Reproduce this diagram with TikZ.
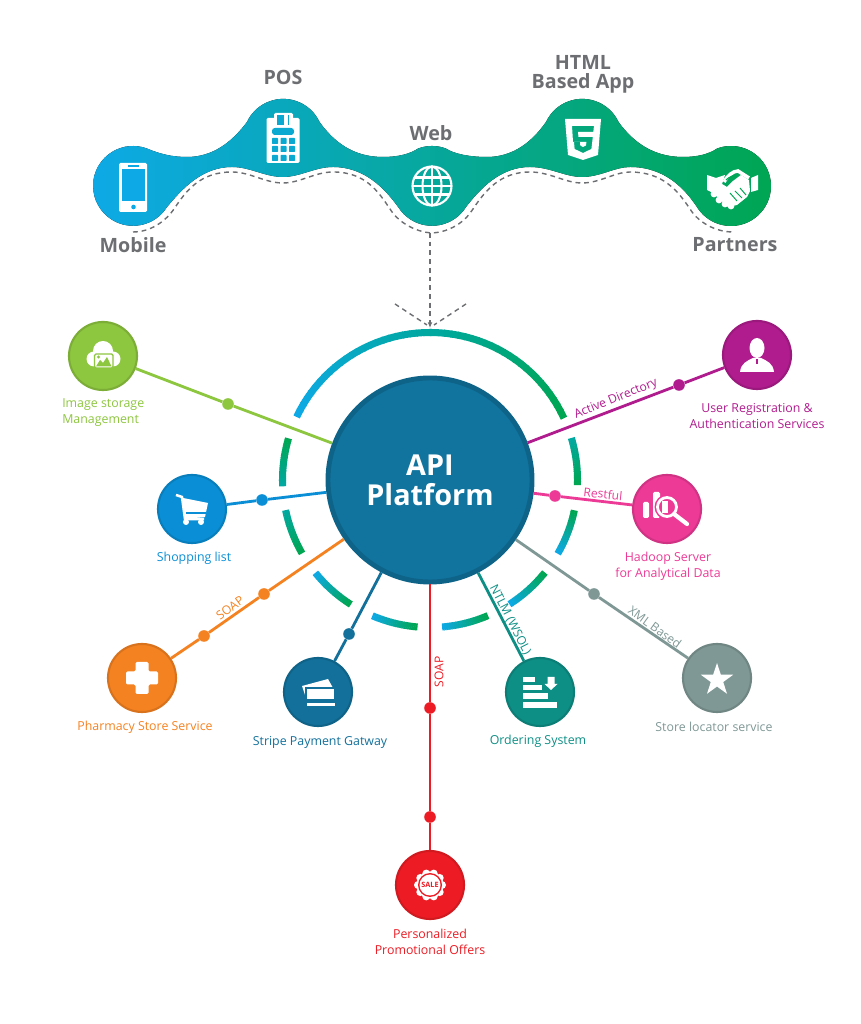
\documentclass[tikz,border=0pt]{standalone}
\usepackage{fontspec}
\setmainfont{Open Sans}
\usepackage{tikz}
\usetikzlibrary{arrows.meta,positioning,shapes.geometric}
\definecolor{ribcyan}{HTML}{0DA9E6}
\definecolor{ribteal}{HTML}{00A8A0}
\definecolor{ribgreen}{HTML}{00A651}
\definecolor{titlegray}{HTML}{6D6E71}
\definecolor{apiblue}{HTML}{11749F}
\definecolor{apiedge}{HTML}{0E6488}
\definecolor{imggreen}{HTML}{8DC63F}
\definecolor{shopblue}{HTML}{0A8FD6}
\definecolor{pharmorange}{HTML}{F58220}
\definecolor{stripblue}{HTML}{12709B}
\definecolor{promored}{HTML}{ED1C24}
\definecolor{ordteal}{HTML}{0E8F86}
\definecolor{storegray}{HTML}{7F9895}
\definecolor{hadpink}{HTML}{EC3A96}
\definecolor{usrpurple}{HTML}{B01C8E}
\tikzset{
    servnode/.style={circle, inner sep=0pt, minimum size=1.7cm, fill=#1, draw=#1!88!black, line width=1.5pt},
    dotnode/.style={circle, inner sep=0pt, minimum size=0.29cm, fill=#1},
    servlabel/.style={text=#1, font=\fontsize{8.8}{11.3}\selectfont, align=center, inner sep=0pt},
    linklabel/.style={text=#1, font=\fontsize{8.6}{10}\selectfont, inner sep=0pt},
    toptitle/.style={text=titlegray, font=\fontsize{14}{13.6}\selectfont\bfseries, align=center, inner sep=0pt},
    conn/.style={draw=#1, line width=2pt},
    dashline/.style={draw=titlegray, line width=1pt, dash pattern=on 3.4pt off 2.8pt}
}
% one ring piece, start angle, end angle, two colours
\newcommand{\ringarc}[4]{%
    \foreach \i in {0,...,23}{
        \pgfmathsetmacro{\ma}{#1+(#2-#1)*\i/24}
        \pgfmathsetmacro{\mb}{#1+(#2-#1)*(\i+1.2)/24}
        \pgfmathsetmacro{\mx}{\i*100/23}
        \draw[line width=5pt, color=#4!\mx!#3] (\ma:147.5) arc[start angle=\ma, end angle=\mb, radius=147.5];
    }
}
\begin{document}
\begin{tikzpicture}[x=0.025cm, y=0.025cm]
    \useasboundingbox (0,0) rectangle (860,1024);

    % ribbon
    \fill[left color=ribcyan, middle color=ribteal, right color=ribgreen] (93,838)
        arc[start angle=180, end angle=70, radius=40]
        .. controls (160,870) and (172,867) .. (187,867)
        .. controls (213,867) and (232,882) .. (247,902)
        arc[start angle=155, end angle=25, radius=40]
        .. controls (334,882) and (353,867) .. (383,867)
        .. controls (398,867) and (410,870) .. (418.3,875.6)
        arc[start angle=110, end angle=70, radius=40]
        .. controls (454,870) and (470,867) .. (487,867)
        .. controls (513,867) and (532,882) .. (546,902)
        arc[start angle=155, end angle=25, radius=40]
        .. controls (633,882) and (653,867) .. (683,867)
        .. controls (698,867) and (709,870) .. (717.3,875.6)
        arc[start angle=110, end angle=-148, radius=40]
        .. controls (685,835) and (665,857) .. (630,857)
        .. controls (615,857) and (600,847) .. (582,847)
        .. controls (565,847) and (550,857) .. (530,857)
        .. controls (500,857) and (480,835) .. (466,817)
        arc[start angle=-32, end angle=-148, radius=40]
        .. controls (385,835) and (365,857) .. (333,857)
        .. controls (315,857) and (300,847) .. (283,847)
        .. controls (265,847) and (250,857) .. (232,857)
        .. controls (202,857) and (182,835) .. (167,817)
        arc[start angle=-32, end angle=-180, radius=40] -- cycle;

    % dashes under the ribbon
    \draw[dashline] (133,792)
        .. controls (150,792) and (165,802) .. (174,815)
        .. controls (186,833) and (200,852) .. (232,852)
        .. controls (250,852) and (265,841) .. (283,841)
        .. controls (300,841) and (315,852) .. (333,852)
        .. controls (365,852) and (378,833) .. (390,815)
        .. controls (398,802) and (415,792) .. (432,791)
        .. controls (450,792) and (465,802) .. (473,815)
        .. controls (485,833) and (500,852) .. (530,852)
        .. controls (550,852) and (565,841) .. (582,841)
        .. controls (600,841) and (615,852) .. (630,852)
        .. controls (663,852) and (678,833) .. (690,815)
        .. controls (698,802) and (715,792) .. (733,792);

    % top titles
    \coordinate (mobile) at (133,838);
    \coordinate (pos) at (283,886);
    \coordinate (web) at (432,838);
    \coordinate (html) at (583,886);
    \coordinate (partners) at (731,838);
    \node[toptitle] (mobiletxt) at (133,779) {Mobile};
    \node[toptitle] (postxt) at (283,947) {POS};
    \node[toptitle] (webtxt) at (431,891) {Web};
    \node[toptitle] (htmltxt) at (583,950) {HTML\\Based App};
    \node[toptitle] (partnerstxt) at (735,779) {Partners};

    % dashed arrow to the platform
    \coordinate (webfoot) at (430,791);
    \coordinate (apitop) at (430,696);
    \coordinate (vleft) at (395,720);
    \coordinate (vright) at (466,720);
    \coordinate (vleftend) at (427,699);
    \coordinate (vrightend) at (434,699);
    \draw[dashline, -{Latex[length=4pt,width=3.4pt]}] (webfoot) -- (apitop);
    \draw[dashline] (vleft) -- (vleftend);
    \draw[dashline] (vright) -- (vrightend);

    % ring
    \begin{scope}[shift={(430,544)}]
        \ringarc{154.7}{90}{ribcyan}{ribteal}
        \ringarc{90}{25.3}{ribteal}{ribgreen}
        \ringarc{163.6}{182.3}{ribgreen}{ribteal}
        \ringarc{191.8}{209.7}{ribteal}{ribgreen}
        \ringarc{219}{237.4}{ribcyan}{ribgreen}
        \ringarc{247}{265}{ribcyan}{ribgreen}
        \ringarc{274.7}{293}{ribcyan}{ribgreen}
        \ringarc{302.6}{321}{ribcyan}{ribgreen}
        \ringarc{330}{348}{ribcyan}{ribgreen}
        \ringarc{358}{376.4}{ribgreen}{ribteal}
    \end{scope}

    % platform
    \node[circle, inner sep=0pt, minimum size=5.1cm, fill=apiblue, draw=apiedge, line width=3.5pt,
        text=white, align=center, font=\fontsize{20.5}{21.5}\selectfont\bfseries] (api) at (430,544) {API\\Platform};

    % services
    \node[servnode=imggreen] (img) at (103,668) {};
    \node[servnode=shopblue] (shop) at (192,515) {};
    \node[servnode=pharmorange] (pharm) at (142,346) {};
    \node[servnode=stripblue] (strip) at (318,332) {};
    \node[servnode=promored] (promo) at (430,139) {};
    \node[servnode=ordteal] (ord) at (540,332) {};
    \node[servnode=storegray] (store) at (717,346) {};
    \node[servnode=hadpink] (had) at (667,515) {};
    \node[servnode=usrpurple] (usr) at (757,669) {};

    \node[dotnode=imggreen] (imgdot) at (228,620) {};
    \node[dotnode=shopblue] (shopdot) at (262,524) {};
    \node[dotnode=pharmorange] (pharmdota) at (264,430) {};
    \node[dotnode=pharmorange] (pharmdotb) at (204,388) {};
    \node[dotnode=stripblue] (stripdot) at (349,390) {};
    \node[dotnode=promored] (promodota) at (430,316) {};
    \node[dotnode=promored] (promodotb) at (430,207) {};
    \node[dotnode=storegray] (storedot) at (594,430) {};
    \node[dotnode=hadpink] (haddot) at (555,528) {};
    \node[dotnode=usrpurple] (usrdot) at (679,639) {};

    \draw[conn=imggreen] (img) -- (imgdot) -- (api);
    \draw[conn=shopblue] (shop) -- (shopdot) -- (api);
    \draw[conn=pharmorange] (pharm) -- (pharmdotb) -- (pharmdota) -- (api);
    \draw[conn=stripblue] (strip) -- (stripdot) -- (api);
    \draw[conn=promored] (promo) -- (promodotb) -- (promodota) -- (api);
    \draw[conn=ordteal] (ord) -- (api);
    \draw[conn=storegray] (store) -- (storedot) -- (api);
    \draw[conn=hadpink] (had) -- (haddot) -- (api);
    \draw[conn=usrpurple] (usr) -- (usrdot) -- (api);

    % labels
    \node[servlabel=imggreen, anchor=west, align=left] (imgtxt) at (62,611) {Image storage\\Management};
    \node[servlabel=shopblue] (shoptxt) at (194,466) {Shopping list};
    \node[servlabel=pharmorange] (pharmtxt) at (145,297) {Pharmacy Store Service};
    \node[servlabel=stripblue] (striptxt) at (320,282) {Stripe Payment Gatway};
    \node[servlabel=promored] (promotxt) at (430,82.5) {Personalized\\Promotional Offers};
    \node[servlabel=ordteal] (ordtxt) at (538,283) {Ordering System};
    \node[servlabel=storegray] (storetxt) at (714,297) {Store locator service};
    \node[servlabel=hadpink] (hadtxt) at (668,458) {Hadoop Server\\for Analytical Data};
    \node[servlabel=usrpurple] (usrtxt) at (757,608) {User Registration \&\\Authentication Services};

    \node[linklabel=usrpurple, rotate=22] (adtxt) at (616,625) {Active Directory};
    \node[linklabel=hadpink, rotate=-6] (resttxt) at (603,530) {Restful};
    \node[linklabel=storegray, rotate=-36] (xmltxt) at (655,397) {XML Based};
    \node[linklabel=ordteal, rotate=-63] (ntlmtxt) at (510,404) {NTLM (WSOL)};
    \node[linklabel=pharmorange, rotate=36] (soapatxt) at (230,416) {SOAP};
    \node[linklabel=promored, rotate=90] (soapbtxt) at (439,352) {SOAP};

    % phone
    \begin{scope}[shift={(mobile)}]
        \fill[white, rounded corners=1pt] (-14,23) rectangle (14,-26);
        \fill[ribcyan] (-11,17) rectangle (12,-15);
        \fill[ribcyan] (-5,20.5) rectangle (6,19.3);
        \fill[ribcyan] (0.5,-21) circle (2.3);
    \end{scope}
    % terminal
    \begin{scope}[shift={(pos)}]
        \fill[white, rounded corners=1pt] (-16.5,20) rectangle (16.5,-25);
        \fill[white, rounded corners=1pt] (-9,25) rectangle (10,15);
        \fill[ribcyan!70!ribteal] (-6,23) rectangle (1,13);
        \fill[ribcyan!70!ribteal] (5,23) rectangle (6,13);
        \fill[ribcyan!70!ribteal, rounded corners=2pt] (-11,10) rectangle (11,3);
        \foreach \kx in {-11,-2.5,6}{
            \foreach \ky in {-6,-14,-23}{
                \fill[ribcyan!70!ribteal, rounded corners=0.5pt] (\kx,\ky) rectangle ++(6,6);
            }
        }
    \end{scope}
    % globe
    \begin{scope}[shift={(web)}, white, line width=1.5pt]
        \draw (0,0) circle (19.5);
        \draw (0,0) ellipse (9.5 and 19.5);
        \draw (0,-19.5) -- (0,19.5);
        \draw (-19.5,0) -- (19.5,0);
        \draw (-17.5,8.5) -- (17.5,8.5);
        \draw (-17.5,-8.5) -- (17.5,-8.5);
    \end{scope}
    % html shield
    \begin{scope}[shift={(html)}]
        \fill[white, even odd rule] (-18,19) -- (18,19) -- (15,-17) -- (0,-22) -- (-15,-17) -- cycle
            (-11,12) -- (11,12) -- (10.3,6) -- (-5,6) -- (-4.5,1) -- (9.8,1) -- (8.4,-11) -- (0,-15) -- (-8.4,-11) -- (-9,-4) -- (-3,-4) -- (-2.7,-7.5) -- (0,-9) -- (3,-7.5) -- (3.4,-4) -- (-10,-4) -- cycle;
    \end{scope}
    % handshake
    \begin{scope}[shift={(partners)}]
        \fill[white] (-24,11) -- (-15,8) -- (-6,11) -- (-9,2) -- (-4,-1) -- (2,5) -- (10,11) -- (18,6) -- (19,-5) -- (16,-11) -- (6,-19) -- (-3,-21) -- (-18,-7) -- (-24,-4) -- cycle;
        \draw[white, line width=2.5pt] (-7,4) .. controls (-4,10) and (2,15) .. (7,15) -- (18,8);
        \draw[ribgreen, line width=0.8pt] (-5,6) .. controls (-2,9) and (1,10) .. (5,10);
        \fill[white] (27,11) -- (20,8) -- (20,-6) -- (27,-4) -- cycle;
        \foreach \fx/\fy in {-17/-8,-12/-14,-6/-18,0/-20}{
            \fill[white] (\fx,\fy) circle (3.4);
        }
        \draw[ribgreen, line width=0.7pt] (-1,-7) -- (6,-15) (4,-5) -- (11,-12) (9,-2) -- (15,-9);
    \end{scope}
    % cloud
    \begin{scope}[shift={(img)}]
        \fill[white] (0,5) circle (10) (-9,-3) circle (7.5) (10,-3) circle (7.5);
        \fill[white] (-9,-10.5) rectangle (10,0);
        \draw[imggreen, line width=0.9pt, fill=white, rounded corners=1pt] (-8.5,2) rectangle (10,-12);
        \fill[imggreen] (-7,-10.5) -- (-3,-4) -- (0,-7) -- (4,-1) -- (8.5,-10.5) -- cycle;
        \fill[imggreen] (-4.5,-1) circle (1.6);
    \end{scope}
    % cart
    \begin{scope}[shift={(shop)}]
        \fill[white] (-9,11) -- (16,6) -- (13,-8) -- (-7,-10) -- cycle;
        \draw[white, line width=1.8pt] (-16,14) -- (-10,12) -- (-7,-10) -- (12,-10);
        \fill[shopblue] (-6,-3) rectangle (13.5,-5);
        \fill[white] (-6,-13) circle (3) (9,-13) circle (3);
    \end{scope}
    % plus
    \begin{scope}[shift={(pharm)}]
        \fill[white, rounded corners=1pt] (-6.5,16) -- (6.5,16) -- (6.5,6.5) -- (16,6.5) -- (16,-6.5) -- (6.5,-6.5) -- (6.5,-16) -- (-6.5,-16) -- (-6.5,-6.5) -- (-16,-6.5) -- (-16,6.5) -- (-6.5,6.5) -- cycle;
    \end{scope}
    % cards
    \begin{scope}[shift={(strip)}]
        \fill[white] (-16,6) -- (10,13) -- (15,4) -- (-12,-6) -- cycle;
        \draw[stripblue, line width=1pt, fill=white] (-12,4) rectangle (17,-8);
        \fill[white] (-11,-11) rectangle (17,-14);
    \end{scope}
    % order list
    \begin{scope}[shift={(ord)}]
        \fill[white] (-17,15) rectangle (-5,10);
        \fill[white] (-17,7) rectangle (2,2);
        \fill[white] (-17,-1) rectangle (8,-7);
        \fill[white] (-17,-10) rectangle (17,-16);
        \fill[white] (7.5,15) -- (14.5,15) -- (14.5,8) -- (17.5,8) -- (11,2) -- (4.5,8) -- (7.5,8) -- cycle;
    \end{scope}
    % star
    \node[star, star points=5, star point ratio=2.6, fill=white, inner sep=0pt, minimum size=0.85cm] (staricon) at ([yshift=-0.05cm]store) {};
    % magnifier
    \begin{scope}[shift={(had)}]
        \fill[white, rounded corners=1pt] (-24,-9) rectangle (-18,7);
        \fill[white, rounded corners=1pt] (-14,-9) rectangle (-7,17);
        \fill[hadpink] (0,2) circle (12.5);
        \draw[white, line width=2pt] (0,2) circle (9.5);
        \fill[white] (-5,-4) rectangle (1,8);
        \draw[white, line width=3pt, line cap=round] (7,-5) -- (20,-15);
    \end{scope}
    % user
    \begin{scope}[shift={(usr)}]
        \fill[white] (0,7) ellipse (7.5 and 10);
        \fill[white] (-17,-17) .. controls (-16,-8) and (-10,-6) .. (-4,-3) -- (4,-3) .. controls (10,-6) and (16,-8) .. (17,-17) -- cycle;
        \fill[usrpurple] (-0.8,-4) rectangle (0.8,-9);
    \end{scope}
    % sale badge
    \begin{scope}[shift={(promo)}]
        \foreach \a in {0,36,...,324}{
            \fill[white] (\a:12) circle (4);
        }
        \fill[white] (0,0) circle (13.5);
        \fill[promored] (0,0) circle (12);
        \fill[white] (0,0) circle (10.5);
    \end{scope}
    \node[text=promored, inner sep=0pt, font=\fontsize{5.2}{6}\selectfont\bfseries] (saletxt) at (promo) {SALE};
\end{tikzpicture}
\end{document}
